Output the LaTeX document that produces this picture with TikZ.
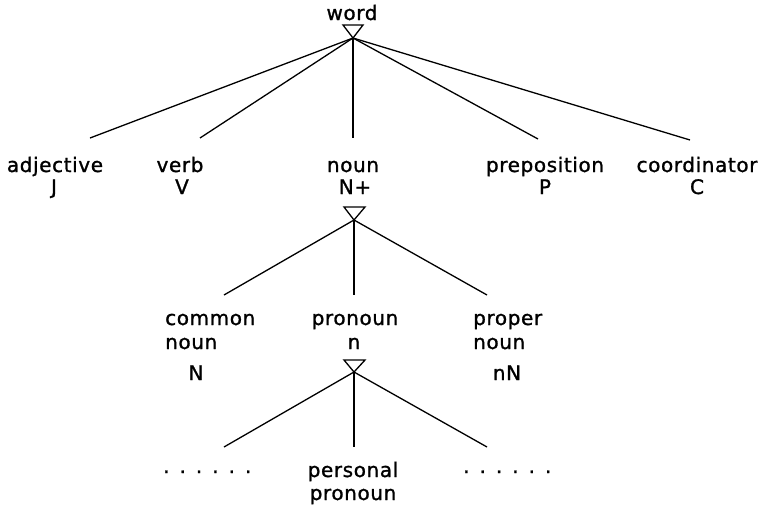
\documentclass[tikz,border=0pt]{standalone}
\usepackage{fontspec}
\setmainfont{DejaVu Sans}[LetterSpace=3,FakeBold=1.2]
\begin{document}
\begin{tikzpicture}[x=1pt,y=-1pt,
  lbl/.style={anchor=base,inner sep=0pt,font=\fontsize{20}{24}\selectfont},
  lblw/.style={lbl,anchor=base west},
  edge/.style={line width=1.3pt},
  tri/.style={line width=1.3pt,line join=miter}]
\useasboundingbox (0,0) rectangle (759,509);
% top level
\node[lbl] (word) at (352,20) {word};
\coordinate (wtip) at (353,38);
\draw[tri] (wtip) -- ++(-10,-13) -- ++(20,0) -- cycle;
\coordinate (eadj) at (90,138);
\coordinate (everb) at (200,138);
\coordinate (enoun) at (353,138);
\coordinate (eprep) at (538,139);
\coordinate (ecoord) at (690,140);
\foreach \e in {eadj,everb,enoun,eprep,ecoord} \draw[edge] (wtip) -- (\e);
\node[lbl] (adj) at (55,172) {adjective};
\node[lbl] (J) at (54,194) {J};
\node[lbl] (verb) at (180,172) {verb};
\node[lbl] (V) at (182,194) {V};
\node[lbl] (noun) at (353,172) {noun};
\node[lbl] (Nplus) at (355,194) {N+};
\node[lbl] (prep) at (545,172) {preposition};
\node[lbl] (P) at (545,194) {P};
\node[lbl] (coord) at (697,172) {coordinator};
\node[lbl] (C) at (697,194) {C};
% noun level
\coordinate (ntip) at (354,220);
\draw[tri] (ntip) -- ++(-10,-13) -- ++(21,0) -- cycle;
\coordinate (ecom) at (224,295);
\coordinate (epro) at (354,295);
\coordinate (eprop) at (487,295);
\foreach \e in {ecom,epro,eprop} \draw[edge] (ntip) -- (\e);
\node[lblw] (common) at (165,325) {common};
\node[lblw] (commonb) at (165,349) {noun};
\node[lbl] (N) at (196,380) {N};
\node[lbl] (pronoun) at (355,325) {pronoun};
\node[lbl] (n) at (354,349) {n};
\node[lblw] (proper) at (473,325) {proper};
\node[lblw] (properb) at (473,349) {noun};
\node[lbl] (nN) at (507,380) {nN};
% pronoun level
\coordinate (ptip) at (354,372);
\draw[tri] (ptip) -- ++(-10,-12) -- ++(21,0) -- cycle;
\coordinate (el) at (224,447);
\coordinate (em) at (354,447);
\coordinate (er) at (487,447);
\foreach \e in {el,em,er} \draw[edge] (ptip) -- (\e);
\node[lblw] (dotsl) at (163,473) {.\hspace{10pt}.\hspace{10pt}.\hspace{10pt}.\hspace{10pt}.\hspace{10pt}.};
\node[lblw] (dotsr) at (463,473) {.\hspace{10pt}.\hspace{10pt}.\hspace{10pt}.\hspace{10pt}.\hspace{10pt}.};
\node[lbl] (personal) at (353,477) {personal};
\node[lbl] (personalb) at (353,500) {pronoun};
\end{tikzpicture}
\end{document}
